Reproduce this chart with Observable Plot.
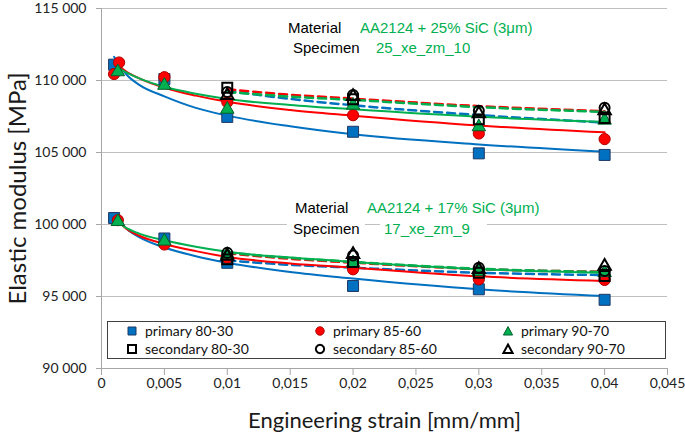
<!DOCTYPE html>
<html><head><meta charset="utf-8">
<script src="https://cdn.jsdelivr.net/npm/d3@7"></script>
<script src="https://cdn.jsdelivr.net/npm/@observablehq/plot@0.6"></script>
<style>
html,body{margin:0;padding:0;background:#fff;}
#wrap{position:relative;width:685px;height:437px;overflow:hidden;background:#fff;}
#wrap svg{position:absolute;left:0;top:0;}
.ann{position:absolute;font-family:"Liberation Sans",Arial,sans-serif;font-size:15px;white-space:nowrap;line-height:17px;background:#fff;}
.k{color:#000}.v{color:#00B050}
#legend{position:absolute;left:107px;top:321px;width:557px;height:36px;border:1px solid #404040;background:#fff;}
.lm{position:absolute;width:14px;height:14px;}
.lt{position:absolute;font-family:Lato,sans-serif;font-size:14px;white-space:nowrap;line-height:16px;color:#111;}
</style></head>
<body><div id="wrap"></div>
<script>
// ---------- data ----------
const xTicks = [0, 0.005, 0.01, 0.015, 0.02, 0.025, 0.03, 0.035, 0.04, 0.045];
const yTicks = [90000, 95000, 100000, 105000, 110000, 115000];
const seriesNames = ["primary 80-30", "primary 85-60", "primary 90-70", "secondary 80-30", "secondary 85-60", "secondary 90-70"];
const seriesColors = ["#0070C0", "#FF0000", "#00B050"];

// fitted trend lines
const fitX = [0.001, 0.002, 0.003, 0.005, 0.0075, 0.01, 0.015, 0.02, 0.03, 0.04];
const dashX = [0.01, 0.015, 0.02, 0.03, 0.04];

// AA2124 + 25% SiC : measured points
const a25_p8030_x = [0.001, 0.005, 0.01, 0.02, 0.03, 0.04];
const a25_p8030_y = [111100, 110100, 107470, 106440, 104940, 104830];
const a25_p8560_x = [0.001, 0.0014, 0.005, 0.01, 0.02, 0.03, 0.04];
const a25_p8560_y = [110450, 111250, 110230, 108500, 107590, 106320, 105930];
const a25_p9070_x = [0.0013, 0.005, 0.01, 0.02, 0.03, 0.04];
const a25_p9070_y = [110600, 109660, 108000, 108280, 106780, 107240];
const a25_sX = [0.01, 0.02, 0.03, 0.04];
const a25_s8030_y = [109500, 108700, 107300, 107400];
const a25_s8560_y = [109200, 109000, 107900, 108100];
const a25_s9070_y = [108970, 108900, 107700, 107900];
// AA2124 + 25% SiC : trend lines
const a25_f8030 = [111650, 110400, 109700, 108900, 108100, 107560, 106820, 106260, 105560, 105050];
const a25_f8560 = [111300, 110600, 110150, 109500, 108950, 108520, 107950, 107560, 106880, 106400];
const a25_f9070 = [111050, 110550, 110150, 109560, 109080, 108720, 108300, 108000, 107480, 107130];
const a25_d8030 = [109300, 108720, 108280, 107600, 107080];
const a25_d8560 = [109390, 109010, 108740, 108220, 107870];
const a25_d9070 = [109200, 108880, 108650, 108150, 107820];

// AA2124 + 17% SiC : measured points
const a17_p8030_x = [0.001, 0.005, 0.01, 0.02, 0.03, 0.04];
const a17_p8030_y = [100450, 99030, 97340, 95730, 95500, 94770];
const a17_p8560_x = [0.0013, 0.005, 0.01, 0.02, 0.03, 0.04];
const a17_p8560_y = [100300, 98610, 97690, 96890, 96190, 96150];
const a17_p9070_x = [0.0013, 0.005, 0.01, 0.02, 0.03, 0.04];
const a17_p9070_y = [100200, 98840, 97920, 97340, 96720, 96650];
const a17_sX = [0.01, 0.02, 0.03, 0.04];
const a17_s8030_y = [97580, 97400, 96650, 96420];
const a17_s8560_y = [98030, 97850, 97000, 96770];
const a17_s9070_y = [97800, 97920, 96880, 97110];
// AA2124 + 17% SiC : trend lines
const a17_f8030 = [100750, 99700, 99120, 98400, 97800, 97350, 96700, 96250, 95500, 95040];
const a17_f8560 = [100500, 99700, 99220, 98650, 98150, 97750, 97300, 97000, 96400, 96080];
const a17_f9070 = [100350, 99750, 99370, 98900, 98450, 98100, 97700, 97400, 96900, 96650];
const a17_d8030 = [97500, 97200, 97000, 96650, 96490];
const a17_d8560 = [98000, 97620, 97350, 96900, 96720];
const a17_d9070 = [98050, 97680, 97400, 96930, 96700];

// ---------- tables ----------
const zip = (xs, ys, s, g) => xs.map((x, i) => ({x, y: ys[i], s, g}));
const points = [
  ...zip(a25_p8030_x, a25_p8030_y, 0, "25"), ...zip(a17_p8030_x, a17_p8030_y, 0, "17"),
  ...zip(a25_p8560_x, a25_p8560_y, 1, "25"), ...zip(a17_p8560_x, a17_p8560_y, 1, "17"),
  ...zip(a25_p9070_x, a25_p9070_y, 2, "25"), ...zip(a17_p9070_x, a17_p9070_y, 2, "17"),
  ...zip(a25_sX, a25_s8030_y, 3, "25"), ...zip(a17_sX, a17_s8030_y, 3, "17"),
  ...zip(a25_sX, a25_s8560_y, 4, "25"), ...zip(a17_sX, a17_s8560_y, 4, "17"),
  ...zip(a25_sX, a25_s9070_y, 5, "25"), ...zip(a17_sX, a17_s9070_y, 5, "17")
];
const solid = [
  ...zip(fitX, a25_f8030, 0, "25"), ...zip(fitX, a17_f8030, 0, "17"),
  ...zip(fitX, a25_f8560, 1, "25"), ...zip(fitX, a17_f8560, 1, "17"),
  ...zip(fitX, a25_f9070, 2, "25"), ...zip(fitX, a17_f9070, 2, "17")
];
const dashed = [
  ...zip(dashX, a25_d8030, 0, "25"), ...zip(dashX, a17_d8030, 0, "17"),
  ...zip(dashX, a25_d9070, 2, "25"), ...zip(dashX, a17_d9070, 2, "17"),
  ...zip(dashX, a25_d8560, 1, "25"), ...zip(dashX, a17_d8560, 1, "17")
];

const fx = v => v === 0 ? "0" : String(+v.toFixed(3)).replace(".", ",");
const fy = v => d3.format(",")(v).replace(/,/g, " ");

const markerStyle = [
  {symbol: "square", r: 6.2, fill: "#0070C0", stroke: "#1F3864", strokeWidth: 1},
  {symbol: "circle", r: 5.6, fill: "#FF0000", stroke: "#B00000", strokeWidth: 1},
  {symbol: "triangle", r: 5, fill: "#00B050", stroke: "#00602A", strokeWidth: 1},
  {symbol: "square", r: 5.6, fill: "none", stroke: "#000", strokeWidth: 2},
  {symbol: "circle", r: 5, fill: "none", stroke: "#000", strokeWidth: 2},
  {symbol: "triangle", r: 4.6, fill: "none", stroke: "#000", strokeWidth: 2}
];

const lineMarks = [];
for (const g of ["25", "17"]) {
  for (let s = 0; s < 3; s++) {
    lineMarks.push(Plot.line(dashed.filter(d => d.s === s && d.g === g), {x: "x", y: "y", stroke: seriesColors[s], strokeWidth: 2.5, strokeDasharray: "8,5", curve: "monotone-x"}));
  }
}
for (const g of ["25", "17"]) {
  for (let s = 0; s < 3; s++) {
    lineMarks.push(Plot.line(solid.filter(d => d.s === s && d.g === g), {x: "x", y: "y", stroke: seriesColors[s], strokeWidth: 2, curve: "monotone-x"}));
  }
}
const dotMarks = markerStyle.map((m, s) => Plot.dot(points.filter(d => d.s === s), {x: "x", y: "y", ...m}));

const chart = Plot.plot({
  width: 685, height: 437,
  marginLeft: 101, marginRight: 18, marginTop: 8, marginBottom: 69,
  style: {fontFamily: "Lato, sans-serif", fontSize: "14px", background: "transparent", overflow: "visible"},
  x: {domain: [0, 0.045]},
  y: {domain: [90000, 115000]},
  marks: [
    Plot.ruleY(yTicks.slice(1), {stroke: "#c0c0c0", strokeWidth: 1}),
    Plot.ruleX([0], {stroke: "#a6a6a6", strokeWidth: 1}),
    Plot.ruleY([90000], {stroke: "#a6a6a6", strokeWidth: 1}),
    Plot.axisX(xTicks, {tickFormat: fx, tickSize: 7, tickPadding: 3, stroke: "#a6a6a6", fill: "#222", fontSize: 14, label: null}),
    Plot.axisY(yTicks, {tickFormat: fy, tickSize: 5, tickPadding: 10, stroke: "#a6a6a6", fill: "#222", fontSize: 14, label: null}),
    ...lineMarks,
    ...dotMarks,
    Plot.text(["Elastic modulus [MPa]"], {text: d => d, frameAnchor: "left", textAnchor: "middle", lineAnchor: "middle", dx: -83, rotate: -90, fontSize: 24, fill: "#1a1a1a"}),
    Plot.text(["Engineering strain [mm/mm]"], {text: d => d, frameAnchor: "bottom", textAnchor: "middle", lineAnchor: "middle", dy: 52, fontSize: 22, fill: "#1a1a1a"})
  ]
});
const wrap = document.getElementById("wrap");
wrap.appendChild(chart);

// ---------- annotations ----------
const annotations = [
  {t: "Material", c: "k", left: 285, top: 19, pad: "0 3px"},
  {t: "AA2124 + 25% SiC (3μm)", c: "v", left: 357, top: 19, pad: "0 3px"},
  {t: "Specimen", c: "k", left: 290, top: 39, pad: "0 3px"},
  {t: "25_xe_zm_10", c: "v", left: 373, top: 39, pad: "0 3px"},
  {t: "Material", c: "k", left: 292, top: 199, pad: "0 3px"},
  {t: "AA2124 + 17% SiC (3μm)", c: "v", left: 364, top: 199, pad: "0 3px"},
  {t: "Specimen", c: "k", left: 287, top: 220, pad: "0 5px 0 6px"},
  {t: "17_xe_zm_9", c: "v", left: 380, top: 220, pad: "0 17px 0 4px"}
];
for (const a of annotations) {
  const el = document.createElement("div");
  el.className = "ann " + a.c;
  el.textContent = a.t;
  el.style.left = a.left + "px";
  el.style.top = a.top + "px";
  el.style.padding = a.pad;
  wrap.appendChild(el);
}

// ---------- legend ----------
const legend = document.createElement("div");
legend.id = "legend";
wrap.appendChild(legend);
const symbolPaths = {
  square: "M3,3H11V11H3Z",
  circle: "M7,2.8A4.2,4.2 0 1,1 6.99,2.8Z",
  triangle: "M7,2.6L11.6,11H2.4Z"
};
seriesNames.forEach((name, i) => {
  const col = i % 3, row = Math.floor(i / 3);
  const m = markerStyle[i];
  const mk = document.createElement("div");
  mk.className = "lm";
  mk.style.left = (17 + col * 188) + "px";
  mk.style.top = (2 + row * 18) + "px";
  const filled = m.fill !== "none";
  mk.innerHTML = `<svg width="14" height="14"><path d="${symbolPaths[m.symbol]}" fill="${filled ? m.fill : "#fff"}" stroke="${m.stroke}" stroke-width="${filled ? 1 : 2}"/></svg>`;
  legend.appendChild(mk);
  const tx = document.createElement("div");
  tx.className = "lt";
  tx.textContent = name;
  tx.style.left = (37 + col * 188) + "px";
  tx.style.top = (1 + row * 18) + "px";
  legend.appendChild(tx);
});
</script>
</body></html>
